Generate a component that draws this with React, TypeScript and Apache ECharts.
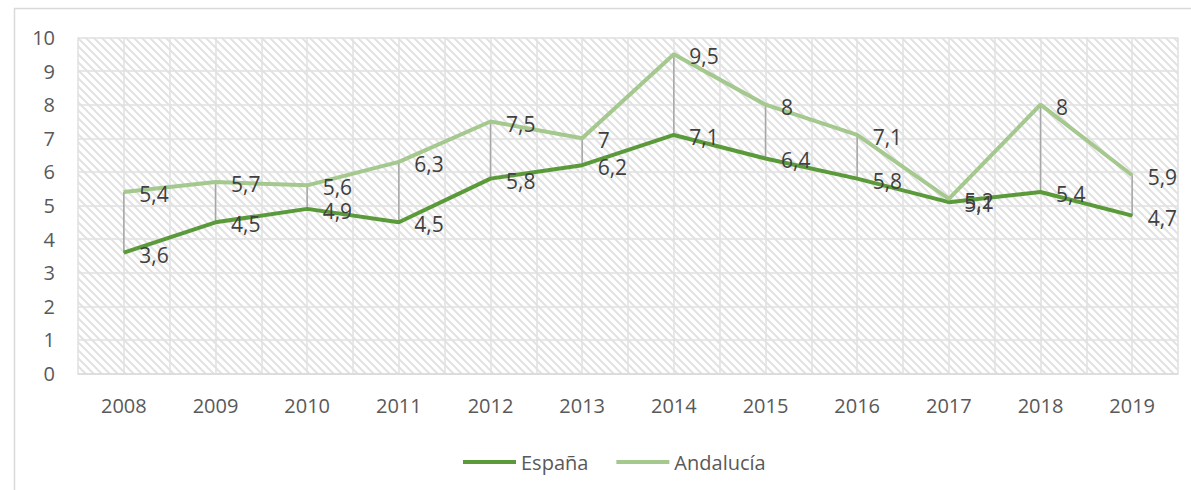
import React, { useEffect, useRef } from "react";
import * as echarts from "echarts";

const years = ["2008", "2009", "2010", "2011", "2012", "2013", "2014", "2015", "2016", "2017", "2018", "2019"];
const espana = [3.6, 4.5, 4.9, 4.5, 5.8, 6.2, 7.1, 6.4, 5.8, 5.1, 5.4, 4.7];
const andalucia = [5.4, 5.7, 5.6, 6.3, 7.5, 7.0, 9.5, 8.0, 7.1, 5.2, 8.0, 5.9];
const halfSlots = Array.from({ length: 24 }, (_, i) => "h" + i);

const FONT = "'Open Sans', sans-serif";

function makeHatch(): HTMLCanvasElement {
  const c = document.createElement("canvas");
  c.width = 8;
  c.height = 8;
  const ctx = c.getContext("2d")!;
  ctx.fillStyle = "#ffffff";
  ctx.fillRect(0, 0, 8, 8);
  ctx.strokeStyle = "#e2e2e2";
  ctx.lineWidth = 2;
  for (const k of [-8, 0, 8]) {
    ctx.beginPath();
    ctx.moveTo(k - 2, -2);
    ctx.lineTo(k + 10, 10);
    ctx.stroke();
  }
  return c;
}

const fmt = (v: number) => String(v).replace(".", ",");

export default function App() {
  const ref = useRef<HTMLDivElement>(null);
  useEffect(() => {
    document.body.style.margin = "0";
    const chart = echarts.init(ref.current!, null, { renderer: "svg" });
    const hatch = makeHatch();
    const labelCfg = {
      show: true,
      position: "right",
      distance: 15,
      offset: [0, 2],
      fontSize: 21,
      lineHeight: 21,
      fontFamily: FONT,
      color: "#404040",
      formatter: (p: any) => fmt(p.value),
    };
    chart.setOption({
      animation: false,
      textStyle: { fontFamily: FONT },
      graphic: [
        {
          type: "rect",
          shape: { x: 14.5, y: 8.5, width: 1300, height: 700 },
          style: { fill: "none", stroke: "#d9d9d9", lineWidth: 1.5 },
          silent: true,
          z: -10,
        },
      ],
      grid: {
        left: 78,
        right: 13,
        top: 37.5,
        bottom: 116.5,
        show: true,
        borderWidth: 0,
        backgroundColor: { image: hatch, repeat: "repeat" },
      },
      legend: {
        data: [
          { name: "España", icon: "rect" },
          { name: "Andalucía", icon: "rect" },
        ],
        top: 447,
        left: 458,
        itemWidth: 53,
        itemHeight: 4,
        itemGap: 28,
        textStyle: { fontSize: 20, color: "#595959", fontFamily: FONT },
      },
      xAxis: [
        {
          type: "category",
          data: years,
          boundaryGap: true,
          axisTick: { show: false },
          axisLine: { lineStyle: { color: "#d9d9d9", width: 1.5 } },
          axisLabel: { fontSize: 20, color: "#595959", margin: 22, fontFamily: FONT },
          splitLine: { show: false },
          z: 5,
        },
        {
          type: "category",
          data: halfSlots,
          boundaryGap: true,
          position: "bottom",
          axisTick: { show: false },
          axisLine: { show: false },
          axisLabel: { show: false },
          splitLine: { show: true, interval: 0, lineStyle: { color: "#e0e0e0", width: 1.5 } },
        },
      ],
      yAxis: {
        type: "value",
        min: 0,
        max: 10,
        interval: 1,
        axisLine: { show: false },
        axisTick: { show: false },
        axisLabel: { fontSize: 20, color: "#595959", margin: 23, fontFamily: FONT },
        splitLine: { lineStyle: { color: "#e0e0e0", width: 1.5 } },
      },
      series: [
        {
          type: "custom",
          name: "drop",
          xAxisIndex: 0,
          data: years.map((_, i) => [i, espana[i], andalucia[i]]),
          encode: { x: 0, y: [1, 2] },
          renderItem: (params: any, api: any) => {
            const a = api.coord([api.value(0), api.value(1)]);
            const b = api.coord([api.value(0), api.value(2)]);
            return {
              type: "line",
              shape: { x1: a[0], y1: a[1], x2: b[0], y2: b[1] },
              style: { stroke: "#a6a6a6", lineWidth: 1.5 },
            };
          },
          z: 1,
          silent: true,
        },
        {
          type: "line",
          name: "España",
          data: espana,
          xAxisIndex: 0,
          symbol: "circle",
          symbolSize: 1,
          showSymbol: true,
          itemStyle: { color: "#5B9A3A", borderWidth: 0 },
          lineStyle: { color: "#5B9A3A", width: 4 },
          label: labelCfg,
          z: 3,
        },
        {
          type: "line",
          name: "Andalucía",
          data: andalucia,
          xAxisIndex: 0,
          symbol: "circle",
          symbolSize: 1,
          showSymbol: true,
          itemStyle: { color: "#A4C88E", borderWidth: 0 },
          lineStyle: { color: "#A4C88E", width: 4 },
          label: labelCfg,
          z: 4,
        },
      ],
    });
    return () => chart.dispose();
  }, []);
  return <div ref={ref} style={{ width: 1191, height: 490 }} />;
}
